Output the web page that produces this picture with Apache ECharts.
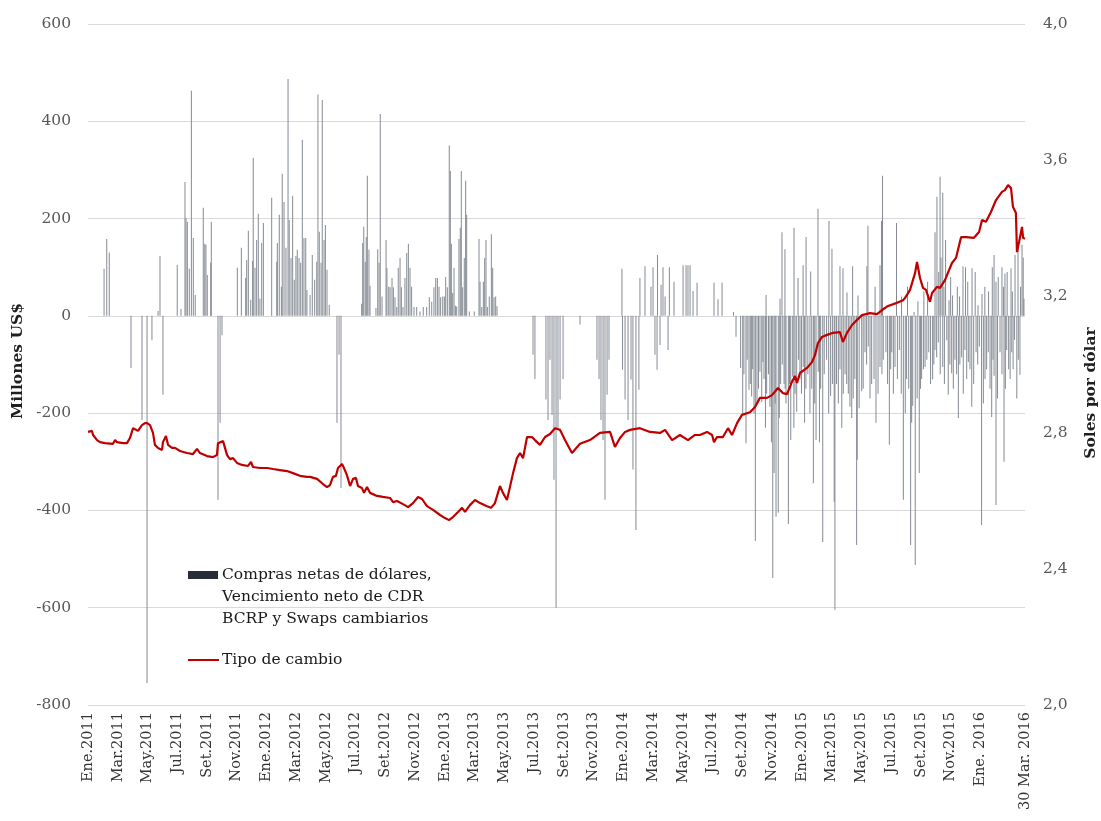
<!DOCTYPE html>
<html><head><meta charset="utf-8">
<script src="https://cdn.jsdelivr.net/npm/echarts@6/dist/echarts.min.js"></script>
<style>html,body{margin:0;padding:0;background:#fff}#c{width:1101px;height:821px}</style>
</head><body><div id="c"></div>
<script>
// x positions are months elapsed since 1 Jan 2011
const tickLabels = ['Ene.2011','Mar.2011','May.2011','Jul.2011','Set.2011','Nov.2011',
 'Ene.2012','Mar.2012','May.2012','Jul.2012','Set.2012','Nov.2012',
 'Ene.2013','Mar.2013','May.2013','Jul.2013','Set.2013','Nov.2013',
 'Ene.2014','Mar.2014','May.2014','Jul.2014','Set.2014','Nov.2014',
 'Ene.2015','Mar.2015','May.2015','Jul.2015','Set.2015','Nov.2015','Ene. 2016'];
const lastLabel = '30 Mar. 2016';

const lineMonths = [0.00,0.27,0.34,0.61,0.81,1.14,1.68,1.82,1.95,2.35,2.62,2.82,3.03,3.16,3.36,3.63,3.83,3.97,4.17,4.37,4.50,4.71,4.98,5.04,5.24,5.38,5.65,5.85,6.19,6.66,7.06,7.33,7.53,8.00,8.40,8.67,8.74,9.08,9.35,9.55,9.75,10.02,10.35,10.76,10.96,11.09,11.56,12.04,12.44,12.91,13.38,13.78,14.25,14.72,14.93,15.40,15.80,16.07,16.27,16.47,16.67,16.81,17.08,17.21,17.41,17.62,17.82,18.02,18.15,18.42,18.56,18.76,18.96,19.43,19.83,20.31,20.51,20.78,21.18,21.52,21.85,22.19,22.46,22.79,23.20,23.67,24.00,24.27,24.54,24.88,25.15,25.35,25.68,26.02,26.36,26.83,27.10,27.36,27.70,27.90,28.17,28.37,28.58,28.84,29.05,29.25,29.52,29.85,30.05,30.39,30.73,31.06,31.40,31.74,32.07,32.54,33.08,33.75,34.42,35.10,35.43,35.77,36.11,36.44,37.11,37.79,38.46,38.80,39.27,39.80,40.34,40.81,41.14,41.62,41.96,42.09,42.29,42.69,43.03,43.30,43.64,43.97,44.51,44.85,45.18,45.65,45.99,46.39,46.73,47.00,47.33,47.54,47.67,47.87,48.34,48.68,48.88,49.08,49.35,49.69,50.09,50.56,50.76,51.03,51.37,51.71,52.04,52.58,53.05,53.39,53.79,54.39,54.80,54.93,55.27,55.61,55.74,55.94,56.14,56.34,56.61,56.75,57.08,57.29,57.62,58.09,58.36,58.70,59.03,59.57,59.91,60.11,60.38,60.71,61.05,61.45,61.65,61.86,62.06,62.19,62.39,62.46,62.60,62.80,62.87,63.00];
const lineRates = [2.802,2.805,2.793,2.778,2.772,2.769,2.767,2.778,2.772,2.769,2.769,2.784,2.813,2.808,2.805,2.822,2.828,2.828,2.822,2.799,2.764,2.755,2.749,2.772,2.790,2.764,2.755,2.755,2.746,2.740,2.737,2.752,2.740,2.731,2.728,2.734,2.769,2.775,2.734,2.722,2.725,2.711,2.705,2.702,2.714,2.699,2.696,2.696,2.693,2.690,2.687,2.681,2.673,2.670,2.670,2.664,2.649,2.640,2.646,2.670,2.673,2.696,2.708,2.696,2.675,2.643,2.664,2.667,2.643,2.637,2.623,2.640,2.623,2.614,2.611,2.608,2.596,2.599,2.590,2.581,2.593,2.611,2.605,2.584,2.573,2.558,2.549,2.543,2.552,2.567,2.579,2.567,2.587,2.602,2.593,2.584,2.579,2.593,2.643,2.623,2.602,2.640,2.681,2.725,2.740,2.725,2.787,2.787,2.778,2.764,2.787,2.796,2.813,2.808,2.778,2.740,2.767,2.778,2.799,2.802,2.758,2.784,2.802,2.808,2.813,2.802,2.799,2.808,2.778,2.793,2.778,2.793,2.793,2.802,2.793,2.772,2.787,2.787,2.813,2.793,2.828,2.852,2.860,2.875,2.902,2.902,2.910,2.931,2.916,2.913,2.949,2.966,2.946,2.975,2.990,3.007,3.028,3.063,3.081,3.087,3.093,3.095,3.066,3.093,3.116,3.131,3.145,3.151,3.148,3.160,3.172,3.181,3.189,3.195,3.219,3.269,3.301,3.254,3.225,3.219,3.184,3.210,3.228,3.225,3.248,3.298,3.313,3.374,3.374,3.372,3.389,3.424,3.419,3.448,3.483,3.507,3.512,3.527,3.518,3.463,3.445,3.330,3.360,3.404,3.372,3.369];

const barMonths = [1.08,1.26,1.43,2.89,3.63,3.97,4.30,4.71,4.84,5.04,6.00,6.25,6.52,6.59,6.68,6.81,6.95,7.08,7.21,7.75,7.85,7.93,8.02,8.25,8.29,8.74,8.88,9.01,
10.04,10.31,10.60,10.67,10.78,10.94,11.07,11.11,11.23,11.34,11.45,11.56,11.68,11.79,12.35,12.69,12.73,12.86,13.00,13.06,13.18,13.31,13.45,13.53,13.65,13.76,13.87,13.98,14.07,14.19,14.30,14.41,14.52,14.64,14.72,14.93,15.08,15.24,15.38,15.46,15.55,15.67,15.75,15.87,15.96,16.07,16.22,16.74,16.88,17.01,
18.40,18.47,18.54,18.64,18.71,18.78,18.89,18.96,19.36,19.48,19.57,19.65,19.77,20.04,20.10,20.22,20.31,20.44,20.53,20.64,20.76,20.86,20.98,21.07,21.18,21.31,21.43,21.54,21.65,21.76,21.92,22.10,22.32,22.54,22.77,22.95,23.11,23.26,23.38,23.49,23.60,23.71,23.85,23.96,24.05,24.16,24.29,24.36,24.43,24.52,24.61,24.70,24.79,24.94,25.03,25.10,25.19,25.30,25.39,25.46,25.64,25.97,26.29,26.36,26.47,26.58,26.67,26.76,26.85,26.98,27.12,27.21,27.30,27.41,27.50,
29.92,30.05,30.79,30.93,31.06,31.20,31.33,31.47,31.60,31.74,31.94,33.08,34.22,34.36,34.49,34.63,34.76,34.90,35.03,35.90,35.94,36.11,36.31,36.51,36.64,36.84,37.04,37.11,37.45,37.85,37.99,38.12,38.26,38.29,38.46,38.53,38.66,38.80,39.00,39.09,39.40,40.01,40.21,40.34,40.48,40.68,40.95,42.09,42.36,42.63,43.40,
45.59,46.53,46.66,46.86,47.47,47.74,48.08,48.28,48.59,49.08,49.82,50.02,50.56,50.76,51.03,51.41,51.77,52.37,52.44,52.92,53.25,53.35,53.42,54.36,55.54,56.95,57.08,57.29,57.47,57.66,57.89,58.13,58.83,59.00,59.44,59.84,60.11,60.92,61.05,61.45,61.65,62.06,62.33,62.53,62.80,62.93,
54.70,55.10,55.80,56.20,56.45,57.20,57.35,57.55,58.00,58.45,58.60,59.15,59.65,60.30,60.55,60.80,61.20,61.55,61.80,62.15,62.70,62.88,
43.57,43.88,44.02,44.24,44.44,44.62,44.69,44.87,44.98,45.18,45.30,45.45,45.63,45.85,46.04,46.13,46.26,46.41,46.57,46.80,46.93,47.09,47.25,47.38,47.54,47.65,47.87,48.09,48.27,48.54,48.77,48.95,49.10,49.26,49.40,49.66,49.93,50.17,50.22,50.33,50.56,50.78,51.01,51.23,51.45,51.68,51.72,52.02,52.24,52.46,52.69,52.98,53.25,53.47,53.65,53.88,54.04,54.26,54.55,54.82,55.04,55.31,55.45,55.62,55.89,56.05,56.28,56.53,56.79,56.95,57.17,57.47,57.74,57.84,58.07,58.29,58.52,58.74,58.96,59.19,59.42,59.71,59.93,60.08,60.31,60.53,60.76,60.92,61.05,61.32,61.59,61.77,62.11,62.30,62.66,
44.10,44.32,44.53,44.78,45.08,45.38,45.55,45.75,45.95,46.20,46.48,46.68,46.87,47.17,47.46,47.78,47.97,48.18,48.40,48.66,48.86,49.18,49.50,49.80,50.05,50.45,50.68,50.90,51.12,51.35,51.56,51.85,52.12,52.35,52.58,52.85,53.12,53.38,53.76,53.97,54.15,54.42,54.68,54.95,55.18,55.38,55.75,55.97,56.17,56.40,56.65,56.87,57.06,57.30,57.58,57.95,58.18,58.40,58.62,58.85,59.08,59.30,59.55,59.82,60.20,60.42,60.65,60.85,61.15,61.45,61.68,61.90,62.00,62.20,62.45,62.55];
const barValues = [97,158,130,-107,-214,-755,-50,10,123,-162,105,14,275,201,193,97,463,160,43,222,148,146,84,109,193,-378,-220,-40,
99,140,78,115,175,33,113,325,99,156,210,35,150,191,243,111,150,208,60,292,234,140,487,197,119,247,74,123,136,119,109,362,160,160,53,43,125,74,111,455,173,109,444,156,187,95,23,-220,-80,-354,
25,150,183,111,162,288,136,62,16,137,109,415,40,156,99,60,59,78,59,38,18,99,119,59,18,78,129,148,99,60,18,18,9,18,18,38,29,59,78,78,60,38,40,40,80,59,350,298,148,47,99,21,19,158,181,298,59,119,278,208,9,9,158,70,18,70,119,156,18,40,168,99,38,40,20,
-80,-130,-172,-214,-90,-204,-337,-600,-234,-172,-130,-18,-90,-130,-214,-255,-378,-162,-90,97,-111,-172,-214,-131,-316,-440,-152,78,102,60,100,-80,-111,125,-60,64,100,40,-70,100,70,104,104,104,104,51,68,68,34,68,8,
43,35,172,137,181,78,104,162,91,220,195,138,102,98,48,102,42,102,185,60,104,195,288,191,8,172,245,286,253,156,32,42,102,100,98,22,45,125,70,100,87,98,125,146,146,35,
40,60,30,50,70,90,120,60,80,60,40,70,90,60,50,100,80,60,90,50,60,120,
-43,-107,-204,-262,-152,-166,-110,-463,-180,-115,-177,-130,-160,-187,-539,-323,-413,-405,-140,-140,-180,-428,-255,-125,-160,-197,-130,-105,-150,-200,-344,-255,-115,-150,-465,-90,-165,-382,-604,-140,-110,-160,-140,-187,-170,-471,-296,-155,-75,-63,-140,-220,-105,-90,-75,-265,-75,-105,-70,-378,-130,-471,-185,-512,-323,-130,-105,-75,-131,-70,-55,-105,-50,-162,-118,-90,-210,-85,-70,-95,-187,-75,-63,-430,-130,-75,-208,-123,-389,-75,-300,-70,-75,-49,-121,
-120,-90,-140,-200,-150,-95,-230,-120,-260,-180,-210,-100,-150,-140,-230,-90,-160,-220,-120,-150,-180,-260,-120,-200,-140,-180,-230,-120,-160,-210,-130,-190,-150,-100,-170,-130,-160,-120,-140,-110,-160,-130,-160,-200,-150,-220,-170,-150,-110,-90,-140,-100,-85,-120,-140,-100,-150,-120,-100,-160,-130,-110,-140,-100,-180,-110,-150,-90,-170,-120,-150,-110,-130,-110,-170,-90];

const serif = '"DejaVu Serif", serif';
const chart = echarts.init(document.getElementById('c'));
chart.setOption({
  animation: false,
  grid: {left: 88, right: 76, top: 24, bottom: 116, containLabel: false},
  xAxis: {
    type: 'value', min: 0, max: 63, interval: 2,
    axisLine: {show: false}, axisTick: {show: false}, splitLine: {show: false},
    axisLabel: {
      rotate: 90, margin: 7, fontFamily: serif, fontSize: 14.5, color: '#333333',
      showMinLabel: true, showMaxLabel: true,
      formatter: function (v) {
        if (Math.abs(v - 63) < 1e-6) return lastLabel;
        const i = Math.round(v / 2);
        return (Math.abs(v - i * 2) < 1e-6 && i < tickLabels.length) ? tickLabels[i] : '';
      }
    }
  },
  yAxis: [{
    type: 'value', min: -800, max: 600, interval: 200,
    axisLine: {show: false}, axisTick: {show: false},
    splitLine: {show: true, lineStyle: {color: '#d9d9d9', width: 1}},
    axisLabel: {margin: 17, fontFamily: serif, fontSize: 15.5, color: '#595959'}
  }, {
    type: 'value', min: 2.0, max: 4.0, interval: 0.4, position: 'right',
    axisLine: {show: false}, axisTick: {show: false}, splitLine: {show: false},
    axisLabel: {margin: 18, fontFamily: serif, fontSize: 15.5, color: '#595959',
      formatter: function (v) { return v.toFixed(1).replace('.', ','); }}
  }],
  series: [{
    name: 'Compras netas de dólares, Vencimiento neto de CDR BCRP y Swaps cambiarios',
    type: 'bar', yAxisIndex: 0, barWidth: 1, barGap: '-100%',
    itemStyle: {color: '#858a93'},
    data: barMonths.map(function (m, i) { return [m, barValues[i]]; })
  }, {
    name: 'Tipo de cambio',
    type: 'line', yAxisIndex: 1, showSymbol: false, z: 5,
    lineStyle: {color: '#c00000', width: 2.2},
    itemStyle: {color: '#c00000'},
    data: lineMonths.map(function (m, i) { return [m, lineRates[i]]; })
  }],
  graphic: [
    {type: 'rect', shape: {x: 188, y: 571, width: 30, height: 8}, style: {fill: '#262c38'}},
    {type: 'text', x: 222, y: 564, style: {text: 'Compras netas de dólares,\nVencimiento neto de CDR\nBCRP y Swaps cambiarios',
      fontFamily: serif, fontSize: 15.5, lineHeight: 22, fill: '#1a1a1a', verticalAlign: 'top', align: 'left'}},
    {type: 'line', shape: {x1: 188, y1: 660, x2: 219, y2: 660}, style: {stroke: '#c00000', lineWidth: 2}},
    {type: 'text', x: 222, y: 660, style: {text: 'Tipo de cambio', fontFamily: serif, fontSize: 15.5,
      fill: '#1a1a1a', verticalAlign: 'middle', align: 'left'}},
    {type: 'text', x: 18, y: 361, rotation: Math.PI / 2, style: {text: 'Millones US$', fontFamily: serif,
      fontSize: 15.5, fontWeight: 'bold', fill: '#1f1f1f', align: 'center', verticalAlign: 'middle'}},
    {type: 'text', x: 1091, y: 393, rotation: Math.PI / 2, style: {text: 'Soles por dólar', fontFamily: serif,
      fontSize: 15.5, fontWeight: 'bold', fill: '#1f1f1f', align: 'center', verticalAlign: 'middle'}}
  ]
});
</script>
</body></html>
